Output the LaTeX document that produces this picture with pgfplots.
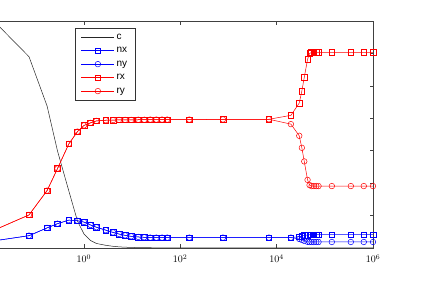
\documentclass[border=0pt]{standalone}
\usepackage{pgfplots}
\pgfplotsset{compat=1.18}
\usepackage{pgfplotstable}
\usepackage{fontspec}
\setmainfont{Liberation Sans}

\pgfplotstableread{
x c nx ny rx ry
0.01 7.2 0.19 0.19 0.46 0.46
0.073 5.90 0.38 0.38 1.02 1.02
0.173 4.38 0.62 0.62 1.77 1.77
0.285 2.99 0.75 0.75 2.45 2.45
0.489 1.76 0.86 0.86 3.21 3.21
0.74 0.83 0.84 0.84 3.59 3.59
1.01 0.43 0.80 0.80 3.78 3.78
1.38 0.23 0.71 0.71 3.86 3.86
1.83 0.14 0.64 0.64 3.92 3.92
2.86 0.083 0.55 0.55 3.94 3.94
4.05 0.052 0.48 0.48 3.945 3.945
5.39 0.035 0.43 0.43 3.95 3.95
7.2 0.025 0.39 0.39 3.95 3.95
9.6 0.018 0.36 0.36 3.95 3.95
13.5 0.013 0.34 0.34 3.955 3.955
18 0.010 0.33 0.33 3.955 3.955
24 0.008 0.32 0.32 3.96 3.96
32 0.006 0.32 0.32 3.96 3.96
42 0.005 0.32 0.32 3.96 3.96
54 0.004 0.32 0.32 3.96 3.96
155 0.002 0.32 0.32 3.96 3.96
771 0.001 0.32 0.32 3.965 3.965
6920 0.001 0.32 0.32 3.97 3.97
19800 0.001 0.32 0.32 4.09 3.82
29500 0.001 0.35 0.28 4.47 3.46
33400 0.001 0.37 0.25 4.84 3.09
37500 0.001 0.385 0.22 5.26 2.67
43900 0.001 0.40 0.19 5.82 2.10
48300 0.001 0.41 0.185 6.00 1.94
53100 0.001 0.41 0.185 6.03 1.91
59300 0.001 0.41 0.185 6.03 1.91
66500 0.001 0.41 0.185 6.03 1.91
74100 0.001 0.41 0.185 6.03 1.91
140000 0.001 0.41 0.185 6.03 1.91
347000 0.001 0.41 0.185 6.03 1.91
644000 0.001 0.41 0.185 6.03 1.91
1000000 0.001 0.41 0.185 6.03 1.91
}\data

\begin{document}
\begin{tikzpicture}
\begin{axis}[
  name=ax, anchor=south west, at={(0pt,0pt)},
  scale only axis, width=385.6pt, height=227pt,
  xmode=log, xmin=1e-2, xmax=1e6, ymin=0, ymax=7,
  xtick={1e-2,1,1e2,1e4,1e6},
  xticklabels={,$10^{0}$,$10^{2}$,$10^{4}$,$10^{6}$},
  xminorticks=false, yminorticks=false,
  ytick={0,1,2,3,4,5,6,7}, yticklabels={},
  major tick length=3.5pt,
  tick style={black!75, line width=0.5pt},
  axis line style={black!75, line width=0.6pt},
  tick label style={font=\fontsize{10}{12}\selectfont},
  xticklabel style={yshift=-3pt},
  clip mode=individual,
  every axis plot/.append style={line width=0.5pt},
  legend style={at={(0.227,0.969)}, anchor=north west, draw=black!80,
    fill=white, font=\fontsize{10}{12}\selectfont, cells={anchor=west},
    inner xsep=6pt, inner ysep=3.5pt, row sep=2.6pt},
  legend image code/.code={\draw[mark repeat=2,mark phase=2,#1] plot coordinates {(0pt,0pt) (16.5pt,0pt) (33pt,0pt)};},
]
\addplot[black!85, no marks] table[x=x,y=c] {\data};
\addplot[blue, mark=square, mark size=2.8pt, mark options={solid}] table[x=x,y=nx] {\data};
\addplot[blue, mark=o, mark size=2.8pt, mark options={solid}] table[x=x,y=ny] {\data};
\addplot[red, mark=square, mark size=2.8pt, mark options={solid}] table[x=x,y=rx] {\data};
\addplot[red, mark=o, mark size=2.8pt, mark options={solid}] table[x=x,y=ry] {\data};
\legend{c,nx,ny,rx,ry}
\end{axis}
\pgfresetboundingbox
\path[use as bounding box] (12.6pt,-33pt) rectangle (433.6pt,248pt);
\end{tikzpicture}
\end{document}
